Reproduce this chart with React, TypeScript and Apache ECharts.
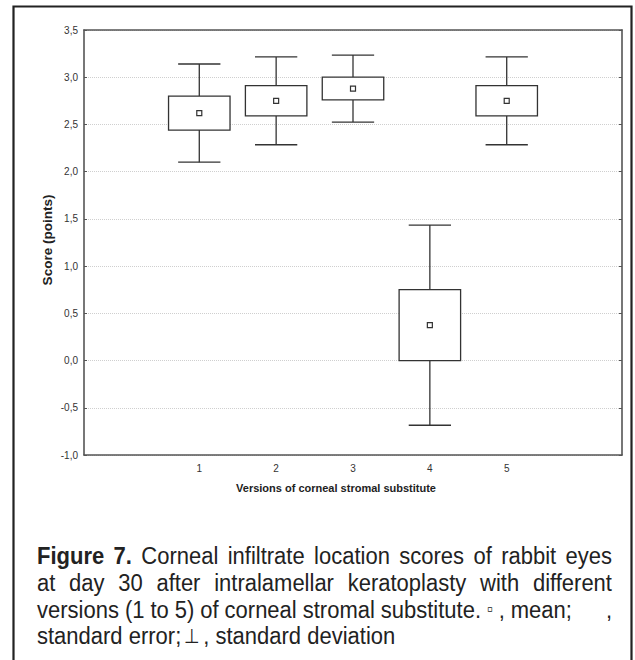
import React, { useEffect, useRef } from "react";
import * as echarts from "echarts";

const versions = ["1", "2", "3", "4", "5"];
const means = [2.62, 2.75, 2.88, 0.375, 2.75];
const stdErrors = [0.18, 0.16, 0.12, 0.375, 0.16];
const stdDevs = [0.52, 0.465, 0.355, 1.06, 0.465];
const yMin = -1.0;
const yMax = 3.5;
const yStep = 0.5;

const yAxisTitle = "Score (points)";
const xAxisTitle = "Versions of corneal stromal substitute";

type Word = { t: string; bold?: boolean; space?: number; gapBefore?: number; size?: number };
const captionLines: { words: Word[]; justify: boolean }[] = [
  {
    words: [
      { t: "Figure", bold: true },
      { t: "7.", bold: true },
      { t: "Corneal" }, { t: "infiltrate" }, { t: "location" }, { t: "scores" },
      { t: "of" }, { t: "rabbit" }, { t: "eyes" },
    ],
    justify: true,
  },
  {
    words: [
      { t: "at" }, { t: "day" }, { t: "30" }, { t: "after" }, { t: "intralamellar" },
      { t: "keratoplasty" }, { t: "with" }, { t: "different" },
    ],
    justify: true,
  },
  {
    words: [
      { t: "versions" }, { t: "(1" }, { t: "to" }, { t: "5)" }, { t: "of" }, { t: "corneal" },
      { t: "stromal" }, { t: "substitute." }, { t: "\u25AB", size: 16 }, { t: ",", space: -2 }, { t: "mean;" },
      { t: "", space: 22 }, { t: "," },
    ],
    justify: true,
  },
  {
    words: [
      { t: "standard" }, { t: "error;" }, { t: "\u22A5", size: 18, gapBefore: 3 }, { t: ",", gapBefore: 3 },
      { t: "standard" }, { t: "deviation" },
    ],
    justify: false,
  },
];

const FONT = '"Liberation Sans", Arial, Helvetica, sans-serif';
const CAP_SIZE = 22;
const CAP_SCALE_Y = 1.12;

function measure(text: string, bold: boolean, size: number) {
  const c = document.createElement("canvas").getContext("2d")!;
  c.font = `${bold ? "bold " : ""}${size}px ${FONT}`;
  return c.measureText(text).width;
}

function captionGraphics() {
  const left = 37;
  const right = 612;
  const baseY = 556;
  const lineH = 26.6;
  const els: any[] = [];
  captionLines.forEach((line, li) => {
    const widths = line.words.map((w) =>
      w.t === "" && w.space !== undefined ? w.space : measure(w.t, !!w.bold, w.size || CAP_SIZE)
    );
    const total = widths.reduce((a, b) => a + b, 0);
    const n = line.words.length;
    const gap = line.justify ? (right - left - total) / (n - 1) : measure(" ", false, CAP_SIZE);
    let x = left;
    line.words.forEach((w, i) => {
      if (i > 0) x += w.gapBefore !== undefined && !line.justify ? w.gapBefore : gap;
      if (w.t !== "") {
        els.push({
          type: "text",
          x,
          y: baseY + li * lineH,
          scaleY: CAP_SCALE_Y,
          style: {
            text: w.t,
            font: `${w.bold ? "bold " : ""}${w.size || CAP_SIZE}px ${FONT}`,
            fill: "#222",
            align: "left",
            verticalAlign: "middle",
          },
        });
      }
      x += widths[i];
    });
  });
  return els;
}

export default function App() {
  const ref = useRef<HTMLDivElement>(null);
  useEffect(() => {
    document.body.style.margin = "0";
    const chart = echarts.init(ref.current!, undefined, { renderer: "svg" });
    const cats = ["", ...versions, ""];
    const data = versions.map((v, i) => [i + 1, means[i], stdErrors[i], stdDevs[i]]);
    const stroke = "#333";
    const axisColor = "#555";
    const option: any = {
      animation: false,
      backgroundColor: "#fff",
      grid: { left: 84, right: 13, top: 30, bottom: 205 },
      xAxis: [
        {
          type: "category",
          data: cats,
          position: "bottom",
          boundaryGap: true,
          axisLine: { onZero: false, lineStyle: { color: axisColor, width: 1.6 } },
          axisTick: { inside: true, alignWithLabel: true, interval: 0, length: 3, lineStyle: { color: axisColor } },
          axisLabel: { interval: 0, fontSize: 10, color: "#333", fontFamily: FONT, margin: 8 },
          splitLine: { show: false },
        },
        {
          type: "category",
          data: cats,
          position: "top",
          boundaryGap: true,
          axisLine: { onZero: false, lineStyle: { color: axisColor, width: 1.6 } },
          axisTick: { inside: true, alignWithLabel: true, interval: 0, length: 3, lineStyle: { color: axisColor } },
          axisLabel: { show: false },
          splitLine: { show: false },
        },
      ],
      yAxis: [
        {
          type: "value",
          min: yMin,
          max: yMax,
          interval: yStep,
          position: "left",
          axisLine: { show: true, onZero: false, lineStyle: { color: axisColor, width: 1.6 } },
          axisTick: { show: true, inside: true, length: 3, lineStyle: { color: axisColor } },
          axisLabel: {
            fontSize: 10,
            color: "#333",
            fontFamily: FONT,
            margin: 6,
            formatter: (v: number) => v.toFixed(1).replace(".", ","),
          },
          splitLine: { show: true, lineStyle: { color: "#cfcfcf", type: [1, 1], width: 1 } },
        },
        {
          type: "value",
          min: yMin,
          max: yMax,
          interval: yStep,
          position: "right",
          axisLine: { show: true, onZero: false, lineStyle: { color: axisColor, width: 1.6 } },
          axisTick: { show: true, inside: true, length: 3, lineStyle: { color: axisColor } },
          axisLabel: { show: false },
          splitLine: { show: false },
        },
      ],
      series: [
        {
          type: "custom",
          xAxisIndex: 0,
          yAxisIndex: 0,
          data,
          encode: { x: 0, y: 1 },
          renderItem: (params: any, api: any) => {
            const x = api.value(0);
            const m = api.value(1);
            const se = api.value(2);
            const sd = api.value(3);
            const band = api.size([1, 0])[0];
            const [cx, cy] = api.coord([x, m]);
            const boxTop = api.coord([x, m + se])[1];
            const boxBot = api.coord([x, m - se])[1];
            const wTop = api.coord([x, m + sd])[1];
            const wBot = api.coord([x, m - sd])[1];
            const boxW = band * 0.8;
            const capW = band * 0.55;
            const ls = { stroke, lineWidth: 1.3, fill: "none" };
            return {
              type: "group",
              children: [
                { type: "line", shape: { x1: cx, y1: wTop, x2: cx, y2: boxTop }, style: ls },
                { type: "line", shape: { x1: cx, y1: boxBot, x2: cx, y2: wBot }, style: ls },
                { type: "line", shape: { x1: cx - capW / 2, y1: wTop, x2: cx + capW / 2, y2: wTop }, style: ls },
                { type: "line", shape: { x1: cx - capW / 2, y1: wBot, x2: cx + capW / 2, y2: wBot }, style: ls },
                {
                  type: "rect",
                  shape: { x: cx - boxW / 2, y: boxTop, width: boxW, height: boxBot - boxTop },
                  style: { stroke, lineWidth: 1.3, fill: "#fff" },
                },
                {
                  type: "rect",
                  shape: { x: cx - 2.5, y: cy - 2.5, width: 5, height: 5 },
                  style: { stroke, lineWidth: 1.2, fill: "#fff" },
                },
              ],
            };
          },
        },
      ],
      graphic: [
        {
          type: "rect",
          shape: { x: 13.5, y: 6.5, width: 618, height: 720 },
          style: { stroke: "#222", lineWidth: 2.2, fill: "none" },
          silent: true,
        },
        {
          type: "text",
          x: 47,
          y: 240,
          rotation: Math.PI / 2,
          style: {
            text: yAxisTitle,
            font: `bold 13.5px ${FONT}`,
            fill: "#222",
            align: "center",
            verticalAlign: "middle",
          },
        },
        {
          type: "text",
          x: 336,
          y: 488,
          style: {
            text: xAxisTitle,
            font: `bold 11px ${FONT}`,
            fill: "#222",
            align: "center",
            verticalAlign: "middle",
          },
        },
        ...captionGraphics(),
      ],
    };
    chart.setOption(option);
    return () => chart.dispose();
  }, []);
  return <div ref={ref} style={{ width: 635, height: 660 }} />;
}
